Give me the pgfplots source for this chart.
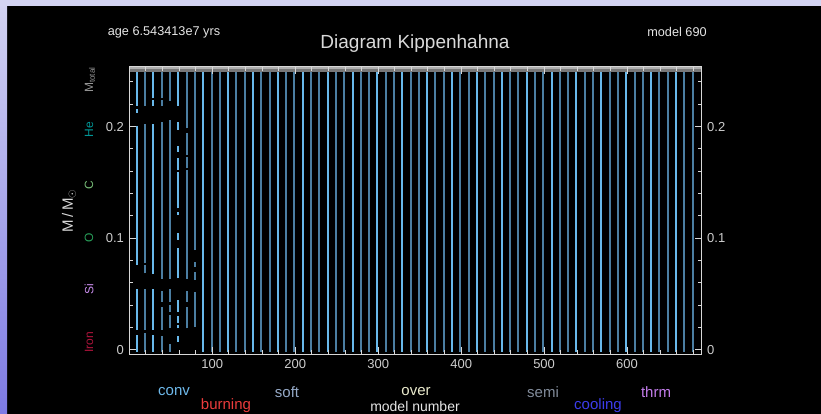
\documentclass[border=0pt]{standalone}
\usepackage{pgfplots}
\pgfplotsset{compat=1.18}
\usepackage{fontspec}
\setmainfont{Liberation Sans}
\definecolor{lightconv}{RGB}{105,185,235}
\definecolor{steelconv}{RGB}{75,126,162}
\definecolor{bandgray}{RGB}{120,120,120}
\definecolor{bandlight}{RGB}{175,175,175}
\definecolor{axgray}{RGB}{215,215,215}
\definecolor{labgray}{RGB}{205,205,205}
\definecolor{lavtop}{RGB}{212,212,242}
\definecolor{lavbot}{RGB}{125,122,228}
\definecolor{cHe}{RGB}{0,150,150}
\definecolor{cC}{RGB}{120,190,120}
\definecolor{cO}{RGB}{40,160,90}
\definecolor{cSi}{RGB}{200,140,235}
\definecolor{cIron}{RGB}{175,20,60}
\definecolor{cMtot}{RGB}{150,150,150}
\definecolor{cconv}{RGB}{110,185,235}
\definecolor{cburn}{RGB}{235,60,60}
\definecolor{csoft}{RGB}{150,170,200}
\definecolor{cover}{RGB}{235,235,205}
\definecolor{csemi}{RGB}{130,140,155}
\definecolor{ccool}{RGB}{60,60,235}
\definecolor{cthrm}{RGB}{195,125,235}

\pgfplotstableread{
x y
89 -0.0015
89 0.2505
89 nan
119 -0.0015
119 0.2505
119 nan
149 -0.0015
149 0.2505
149 nan
179 -0.0015
179 0.2505
179 nan
209 -0.0015
209 0.2505
209 nan
239 -0.0015
239 0.2505
239 nan
269 -0.0015
269 0.2505
269 nan
299 -0.0015
299 0.2505
299 nan
329 -0.0015
329 0.2505
329 nan
359 -0.0015
359 0.2505
359 nan
389 -0.0015
389 0.2505
389 nan
419 -0.0015
419 0.2505
419 nan
449 -0.0015
449 0.2505
449 nan
479 -0.0015
479 0.2505
479 nan
509 -0.0015
509 0.2505
509 nan
539 -0.0015
539 0.2505
539 nan
569 -0.0015
569 0.2505
569 nan
599 -0.0015
599 0.2505
599 nan
629 -0.0015
629 0.2505
629 nan
659 -0.0015
659 0.2505
659 nan
9 -0.0015
9 0.0134
9 nan
9 0.0179
9 0.0543
9 nan
9 0.0761
9 0.2005
9 nan
9 0.2125
9 0.2155
9 nan
9 0.2184
9 0.2505
9 nan
29 -0.0015
29 0.0134
29 nan
29 0.0179
29 0.0543
29 nan
29 0.0680
29 0.2023
29 nan
29 0.2184
29 0.2238
29 nan
29 0.2253
29 0.2505
29 nan
59 0.0075
59 0.0125
59 nan
59 0.0194
59 0.0224
59 nan
59 0.0245
59 0.0304
59 nan
59 0.0343
59 0.0448
59 nan
59 0.0642
59 0.0910
59 nan
59 0.0985
59 0.1045
59 nan
59 0.1209
59 0.1238
59 nan
59 0.1268
59 0.1596
59 nan
59 0.1611
59 0.1716
59 nan
59 0.1776
59 0.1826
59 nan
59 0.1970
59 0.2044
59 nan
59 0.2184
59 0.2505
}\lightlines

\pgfplotstableread{
x y
99 -0.0015
99 0.2505
99 nan
109 -0.0015
109 0.2505
109 nan
129 -0.0015
129 0.2505
129 nan
139 -0.0015
139 0.2505
139 nan
159 -0.0015
159 0.2505
159 nan
169 -0.0015
169 0.2505
169 nan
189 -0.0015
189 0.2505
189 nan
199 -0.0015
199 0.2505
199 nan
219 -0.0015
219 0.2505
219 nan
229 -0.0015
229 0.2505
229 nan
249 -0.0015
249 0.2505
249 nan
259 -0.0015
259 0.2505
259 nan
279 -0.0015
279 0.2505
279 nan
289 -0.0015
289 0.2505
289 nan
309 -0.0015
309 0.2505
309 nan
319 -0.0015
319 0.2505
319 nan
339 -0.0015
339 0.2505
339 nan
349 -0.0015
349 0.2505
349 nan
369 -0.0015
369 0.2505
369 nan
379 -0.0015
379 0.2505
379 nan
399 -0.0015
399 0.2505
399 nan
409 -0.0015
409 0.2505
409 nan
429 -0.0015
429 0.2505
429 nan
439 -0.0015
439 0.2505
439 nan
459 -0.0015
459 0.2505
459 nan
469 -0.0015
469 0.2505
469 nan
489 -0.0015
489 0.2505
489 nan
499 -0.0015
499 0.2505
499 nan
519 -0.0015
519 0.2505
519 nan
529 -0.0015
529 0.2505
529 nan
549 -0.0015
549 0.2505
549 nan
559 -0.0015
559 0.2505
559 nan
579 -0.0015
579 0.2505
579 nan
589 -0.0015
589 0.2505
589 nan
609 -0.0015
609 0.2505
609 nan
619 -0.0015
619 0.2505
619 nan
639 -0.0015
639 0.2505
639 nan
649 -0.0015
649 0.2505
649 nan
669 -0.0015
669 0.2505
669 nan
679 -0.0015
679 0.2505
679 nan
19 -0.0015
19 0.0149
19 nan
19 0.0179
19 0.0543
19 nan
19 0.0686
19 0.0761
19 nan
19 0.0776
19 0.2023
19 nan
19 0.2184
19 0.2505
19 nan
39 -0.0015
39 0.0125
39 nan
39 0.0179
39 0.0388
39 nan
39 0.0433
39 0.0531
39 nan
39 0.0636
39 0.2038
39 nan
39 0.2184
39 0.2238
39 nan
39 0.2253
39 0.2505
39 nan
49 -0.0015
49 0.0054
49 nan
49 0.0194
49 0.0313
49 nan
49 0.0343
49 0.0403
49 nan
49 0.0433
49 0.0543
49 nan
49 0.0636
49 0.2059
49 nan
49 0.2232
49 0.2505
49 nan
69 0.0194
69 0.0382
69 nan
69 0.0433
69 0.0531
69 nan
69 0.0636
69 0.1611
69 nan
69 0.1626
69 0.1731
69 nan
69 0.1746
69 0.1946
69 nan
69 0.1985
69 0.2505
69 nan
79 0.0209
79 0.0522
79 nan
79 0.0627
79 0.0701
79 nan
79 0.0746
79 0.0791
79 nan
79 0.0895
79 0.2505
}\steellines

\begin{document}
\begin{tikzpicture}[x=1pt,y=1pt]
\useasboundingbox (0,0) rectangle (821,414);
\clip (0,0) rectangle (821,414);
\fill[black] (0,0) rectangle (821,414);
\shade[top color=lavtop, bottom color=lavbot] (0,0) rectangle (7,414);
\fill[lavtop] (0,408) rectangle (821,414);

\begin{axis}[
  at={(129.4pt,59.7pt)}, anchor=south west,
  scale only axis, width=572.3pt, height=287.6pt,
  xmin=0, xmax=690, ymin=-0.0039, ymax=0.2537,
  axis on top=true,
  axis line style={draw=axgray, line width=1.3pt},
  tick style={draw=axgray, line width=1pt},
  major tick length=7pt, minor tick length=4pt,
  tick align=inside,
  xtick={100,200,300,400,500,600},
  minor xtick={20,40,60,80,120,140,160,180,220,240,260,280,320,340,360,380,420,440,460,480,520,540,560,580,620,640,660,680},
  ytick={0,0.1,0.2},
  minor ytick={0.02,0.04,0.06,0.08,0.12,0.14,0.16,0.18,0.22,0.24},
  xtick pos=both, ytick pos=both,
  xticklabel pos=lower, yticklabel pos=left,
  ticklabel style={font=\fontsize{13}{13}\selectfont, text=labgray},
  /pgf/number format/assume math mode=true,
  xticklabel style={yshift=-2pt},
  yticklabel style={xshift=-2pt},
  unbounded coords=jump,
]
\addplot[lightconv, line width=2pt] table[x=x,y=y] {\lightlines};
\addplot[steelconv, line width=2pt] table[x=x,y=y] {\steellines};
\addplot[fill=bandgray, draw=none] coordinates {(0,0.2487) (690,0.2487) (690,0.2537) (0,0.2537)} -- cycle;
\addplot[bandlight, line width=2pt] coordinates {(0,0.2527) (690,0.2527)};
\end{axis}

\begin{axis}[
  at={(129.4pt,59.7pt)}, anchor=south west,
  scale only axis, width=572.3pt, height=287.6pt,
  xmin=0, xmax=690, ymin=-0.0039, ymax=0.2537,
  hide x axis,
  axis y line*=right,
  axis line style={draw=none},
  major tick length=0pt, minor tick length=0pt,
  ytick={0,0.1,0.2},
  yticklabel pos=right,
  ticklabel style={font=\fontsize{13}{13}\selectfont, text=labgray},
  /pgf/number format/assume math mode=true,
  yticklabel style={xshift=2pt},
]
\end{axis}

\node[text=white!90!black, font=\fontsize{12.7}{13}\selectfont] at (164,382) {age 6.543413e7 yrs};
\node[text=white!90!black, font=\fontsize{12.7}{13}\selectfont] at (677,382) {model 690};
\node[text=white!85!black, font=\fontsize{19}{19}\selectfont] at (415,370) {Diagram Kippenhahna};

\node[rotate=90, text=cMtot, font=\fontsize{12}{12}\selectfont] at (90,334) {M\textsubscript{total}};
\node[rotate=90, text=cHe, font=\fontsize{12}{12}\selectfont] at (89,284) {He};
\node[rotate=90, text=cC, font=\fontsize{12}{12}\selectfont] at (89,229) {C};
\node[rotate=90, text=cO, font=\fontsize{12}{12}\selectfont] at (89,176) {O};
\node[rotate=90, text=cSi, font=\fontsize{12}{12}\selectfont] at (89,125) {Si};
\node[rotate=90, text=cIron, font=\fontsize{12}{12}\selectfont] at (89,72) {Iron};
\node[rotate=90, text=white!85!black, font=\fontsize{15}{15}\selectfont] at (69,203) {M\,/\,M$_{\odot}$};

\node[text=cconv, font=\fontsize{15}{15}\selectfont] at (174,22) {conv};
\node[text=cburn, font=\fontsize{15}{15}\selectfont] at (226,8) {burning};
\node[text=csoft, font=\fontsize{15}{15}\selectfont] at (287,22) {soft};
\node[text=cover, font=\fontsize{15}{15}\selectfont] at (416,22) {over};
\node[text=csemi, font=\fontsize{15}{15}\selectfont] at (543,22) {semi};
\node[text=ccool, font=\fontsize{15}{15}\selectfont] at (598,8) {cooling};
\node[text=cthrm, font=\fontsize{15}{15}\selectfont] at (656,22) {thrm};
\node[text=white!90!black, font=\fontsize{14}{14}\selectfont, anchor=base, inner sep=0pt] at (415,2.5) {model number};
\end{tikzpicture}
\end{document}
